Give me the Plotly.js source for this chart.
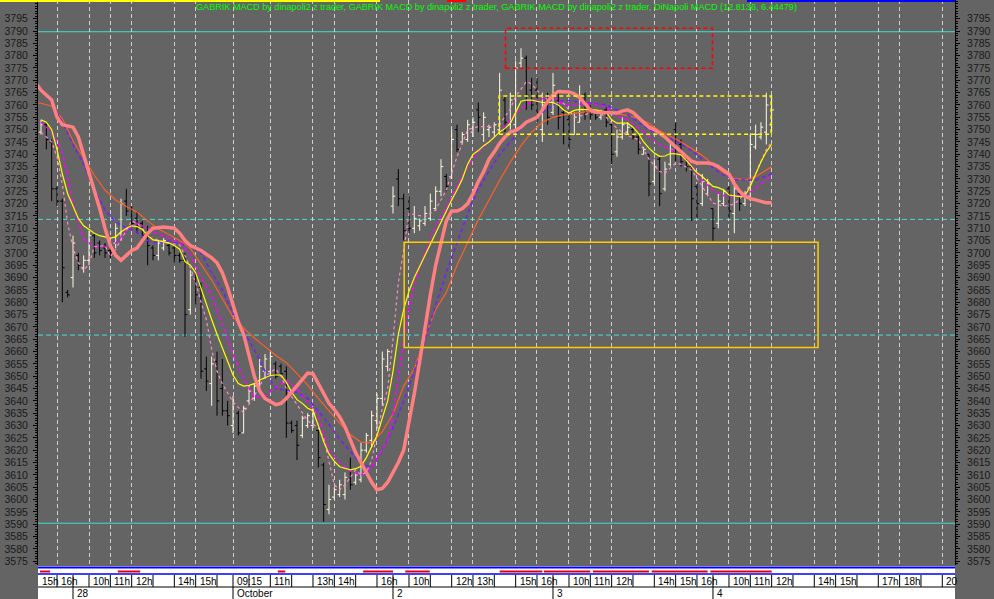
<!DOCTYPE html>
<html><head><meta charset="utf-8">
<script src="https://cdn.plot.ly/plotly-3.0.1.min.js"></script>
<style>html,body{margin:0;padding:0;background:#646464;overflow:hidden}#chart{width:994px;height:599px}</style>
</head><body><div id="chart"></div>
<script>
// ---- OHLC data (15-minute bars), first bar index = -6 ----
const firstBar = -6;
const opens = [3749,3752,3745,3726,3721,3684,
3690,3699,3694,3697,3707,3704,3702,3701,3704,3708,
3721,3718,3714,3712,3708,3702,3699,3702,3703,3702,
3699,3697,3677,3690,3686,3653,3647,3656,3645,3636,
3630,3635,3627,3640,3641,3647,3652,3652,3655,3654,
3652,3631,3630,3626,3630,3630,3628,3614,3596,3601,
3602,3602,3612,3607,3608,3620,3624,3632,3641,3654,
3719,3730,3722,3718,3710,3711,3712,3714,3718,3725,
3731,3731,3750,3745,3746,3749,3758,3748,3750,3749,
3750,3762,3752,3752,3777,3779,3766,3766,3750,3762,
3757,3762,3757,3754,3748,3753,3764,3759,3757,3755,
3758,3752,3741,3747,3749,3750,3747,3740,3740,3729,
3738,3726,3736,3750,3744,3739,3735,3727,3720,3724,
3718,3712,3720,3726,3716,3724,3720,3723,3743,3747,
3749,3752];
const highs = [3754,3753,3746,3727,3722,3685,
3707,3700,3699,3709,3708,3705,3704,3704,3712,3722,
3726,3719,3717,3713,3711,3703,3705,3706,3704,3703,
3700,3700,3693,3692,3688,3658,3658,3660,3657,3640,
3642,3636,3638,3646,3647,3657,3659,3660,3656,3655,
3654,3632,3632,3634,3635,3637,3630,3615,3606,3605,
3608,3611,3617,3611,3623,3627,3636,3643,3660,3661,
3727,3734,3724,3723,3719,3714,3719,3724,3727,3738,
3732,3750,3752,3749,3754,3755,3761,3757,3752,3753,
3773,3764,3765,3778,3783,3780,3771,3771,3765,3765,
3773,3766,3758,3756,3757,3768,3765,3760,3758,3758,
3759,3753,3750,3755,3753,3751,3748,3743,3740,3738,
3739,3737,3745,3753,3746,3740,3735,3728,3732,3730,
3718,3724,3726,3727,3730,3724,3725,3748,3752,3753,
3765,3764];
const lows = [3748,3742,3721,3719,3680,3682,
3686,3693,3692,3695,3698,3699,3698,3698,3702,3705,
3715,3710,3708,3705,3695,3697,3697,3701,3699,3696,
3696,3666,3675,3679,3649,3644,3638,3634,3634,3630,
3627,3626,3627,3639,3640,3645,3649,3650,3649,3650,
3625,3627,3616,3625,3629,3629,3613,3591,3594,3600,
3601,3600,3604,3606,3607,3619,3621,3629,3638,3652,
3716,3719,3705,3708,3708,3709,3711,3713,3717,3723,
3725,3730,3741,3744,3745,3747,3749,3745,3747,3747,
3749,3749,3750,3749,3775,3758,3758,3753,3745,3752,
3756,3750,3744,3742,3748,3753,3754,3754,3754,3754,
3751,3736,3739,3746,3748,3746,3740,3740,3723,3728,
3719,3725,3735,3737,3735,3733,3713,3714,3719,3723,
3705,3710,3719,3714,3708,3717,3719,3721,3742,3746,
3744,3749];
const closes = [3752,3746,3726,3721,3694,3683,
3704,3695,3697,3707,3700,3701,3700,3700,3710,3720,
3717,3712,3711,3707,3703,3699,3704,3705,3700,3699,
3697,3675,3691,3683,3652,3648,3655,3640,3636,3634,
3639,3627,3637,3644,3646,3654,3657,3658,3650,3651,
3631,3628,3622,3633,3634,3635,3617,3598,3600,3604,
3606,3609,3606,3610,3620,3626,3634,3641,3657,3660,
3723,3722,3709,3710,3714,3713,3716,3721,3725,3735,
3727,3746,3742,3748,3752,3753,3755,3755,3751,3752,
3766,3753,3762,3775,3779,3764,3760,3757,3760,3755,
3768,3755,3748,3746,3755,3762,3757,3756,3755,3757,
3753,3740,3747,3752,3751,3747,3742,3742,3728,3735,
3724,3734,3742,3740,3737,3735,3722,3720,3729,3728,
3710,3721,3725,3717,3726,3720,3723,3744,3748,3751,
3760,3758];

// ---- indicator lines ----
const yellowMA = [3754,3753,3750,3742,3732,3724,
3719,3714,3711,3709.5,3708,3707,3706.5,3706,3706.5,3708.5,
3710,3711,3710.7,3709.5,3707,3705.3,3705,3704.5,3704,3703,
3701.5,3696.5,3695,3692,3685.5,3679,3673,3667,3661.5,3656,
3650.5,3647,3646,3646.3,3647,3648.5,3649.5,3650.3,3650.5,3650.5,
3647.5,3643.5,3640.5,3639,3637,3636,3630,3623.5,3618.5,3615.5,
3613.3,3612.5,3612,3612.5,3613.5,3617,3621.5,3626,3633,3640,
3652,3667,3677,3684.5,3690,3694.5,3699,3704,3708.5,3713,
3717,3721.5,3725.5,3730,3736,3740,3741.5,3743.5,3745,3747,
3749,3750.5,3752.5,3757,3761.5,3762,3762,3761.5,3761,3761,
3761,3760,3758,3756.7,3757.8,3758.2,3758.2,3758.1,3758,3757.5,
3757,3754,3752.6,3752.6,3752.6,3751,3748.5,3745,3742.5,3740.5,
3739.2,3739.3,3740.3,3740.2,3739.8,3737.5,3734.8,3732.5,3731,3729,
3727,3726.5,3725.5,3723.5,3723,3722.8,3723.3,3727,3732,3737,
3741,3744];

const salmonX = [-7,-6,-4,-3,-2,0,1,2,3,4,5,6,7,8,9,10,11,12,13,14,15,17,19,20,21,22,24,26,27,28,29,30,31,32,33,34,35,36,38,39,40,41,42,43,44,45,46,47,48,49,50,51,52,53,54,55,56,57,58,59,60,61,62,63,64,65,66,67,68,69,70,71,72,73,74,75,76,77,78,79,80,81,82,83,84,85,86,87,88,89,90,91,93,94,95,96,97,98,102,103,104,105,106,107,108,109,110,111,112,113,114,115,116,117,119,120,121,122,123,124,125,126,127,128,129,130,131];
const salmonY = [3769,3766,3762,3755,3752,3751,3747,3740,3732,3725,3718,3710,3703,3699,3697,3699,3701,3702,3705,3708,3710,3710.5,3710,3708,3705,3703,3701,3698,3696,3692,3686,3679,3672,3667,3658,3650,3644,3641,3638.5,3639,3641,3643.5,3646.5,3649,3651.3,3651,3647,3643,3639,3636.5,3633.5,3629.5,3624,3619,3615,3611,3607,3604,3604.5,3607,3611,3615,3620,3631,3643,3656,3670,3683,3695,3704,3713,3717,3717,3718,3720,3724,3729,3733,3738,3741,3744.5,3747,3749,3749.7,3751,3753,3754,3755,3758,3761.5,3764,3765.5,3765.3,3764.5,3763,3760.5,3758,3757,3756.7,3757.5,3758,3757,3755,3753,3751,3750,3748.5,3747,3745,3743,3741,3739,3737.2,3736.5,3736.5,3736,3735,3733.5,3732,3728,3725,3723,3722,3721.5,3721,3720.3,3720.3];

const orangeX = [-7,-6,-4,-2,0,2,4,6,8,10,12,14,16,18,20,22,24,26,28,30,32,34,36,38,40,42,44,46,48,50,52,54,56,58,60,62,64,66,68,70,72,74,76,78,80,82,84,86,88,90,92,94,96,98,100,102,104,106,108,110,112,114,116,118,120,122,124,126,128,130,131];
const orangeY = [3761,3760.7,3759.5,3754.5,3745.5,3738.5,3731.5,3725.5,3721.5,3718.8,3716.6,3713,3709.7,3707.5,3705,3701.8,3695.5,3689,3681.5,3674,3669.5,3665.5,3662,3658.5,3655.5,3651,3646.5,3641,3635.8,3631,3626.3,3623.3,3623,3627.5,3634.7,3646,3653,3666,3677,3684,3695,3704.5,3713.5,3721.5,3729.5,3736.8,3743.5,3749,3753,3755,3756,3756.6,3757.2,3757.2,3756.9,3756.5,3755.7,3754.6,3752.6,3749.5,3747.3,3745,3742.3,3739.5,3736,3732.5,3730.2,3729.6,3730.9,3733.8,3735];

const magentaX = [-6,-4,-2,0,2,4,6,8,10,12,14,16,18,20,22,24,26,28,30,32,34,36,38,40,42,44,46,48,50,52,54,56,58,59,60,61,62,63,64,65,66,68,70,72,74,76,78,80,82,84,86,88,90,92,94,96,98,100,102,104,106,108,110,112,114,116,118,120,122,124,126,128,130,131];
const magentaY = [3753,3749,3741,3720,3705.5,3702.7,3702.5,3704,3709,3712,3710,3707.6,3706,3704,3699.5,3690,3683,3671,3659,3649,3641.5,3642,3645.5,3648.4,3645,3639.5,3634,3620,3615,3611.5,3609.8,3613,3620.5,3624,3634,3650,3664,3678,3687,3694,3700,3711,3718.5,3727,3735,3741,3745,3749,3754,3758.5,3761.5,3762.6,3763.5,3760,3760,3760.5,3760.3,3759,3755.5,3754,3750.5,3747.3,3744,3742,3739.5,3735.5,3729.5,3725.5,3723.2,3723,3723.6,3726,3729.8,3731];

const purpleX = [-7,-6,-4,-2,0,2,4,6,8,10,12,14,16,18,20,22,24,26,28,30,32,34,36,38,40,42,44,46,48,50,52,54,56,58,60,62,64,66,68,70,72,74,76,78,80,82,84,86,88,90,92,94,96,98,100,102,104,106,108,110,112,114,116,118,120,122,124,126,128,130,131];
const purpleY = [3768,3766.5,3761,3753,3744,3736,3725.5,3717.5,3712.5,3710.2,3708.5,3705,3703.9,3705,3703.8,3702.7,3700,3692,3685,3675.5,3668.3,3660.7,3652,3645,3644.4,3643.5,3641,3636,3630.5,3624.5,3619.5,3614.5,3613,3620,3629,3640,3652,3665,3679,3692,3704,3716,3726,3733,3740,3745,3750.5,3754,3757,3760,3762,3761.5,3761,3760.5,3760,3758,3756,3753,3750,3748,3746.3,3744.2,3741.5,3738,3734.5,3731.5,3729.8,3729.6,3729.6,3731.2,3732];

const pinkX = [-6,-4,-3,-2,-1,0,1,2,3,4,6,7,8,10,11,12,13,14,16,18,20,21,22,23,24,25,26,27,28,30,32,33,34,36,38,39,40,42,44,46,47,48,49,50,51,52,53,54,55,56,57,58,59,60,61,62,63,64,66,68,70,72,74,76,78,80,82,83,84,85,86,87,88,90,92,94,96,98,100,102,104,106,108,110,111,113,114,116,118,120,122,124,126,128,129,130,131];
const pinkY = [3749,3745,3739,3728,3712,3702,3696,3693,3695.5,3702.5,3703,3698.5,3701.5,3709,3713,3712,3710,3706.5,3705.2,3704,3703.2,3699,3694,3688,3680,3673,3661,3652,3647,3639.5,3635.2,3638.5,3642,3650,3653,3650,3645,3638.5,3632,3629,3625,3615.5,3606,3604,3606,3609,3612,3610,3611,3616,3626,3637,3645,3665,3688,3701,3716,3715.5,3714.7,3717.5,3725.5,3739,3750,3751.2,3751.2,3752,3758.5,3763.4,3766.5,3769.5,3768.5,3766,3763.5,3761,3760.7,3755,3756,3758,3755,3750.5,3747.5,3746,3738,3733,3732.3,3736.4,3736,3733.6,3727,3720.2,3718.9,3719.8,3724,3732,3737,3742,3745];

// ---- drawn levels and zones (prices, bar indices) ----
const solidLevels = [3789.7, 3590.4];
const dashedLevels = [3713.6, 3666.7];
const zoneStart = [62.1, 79.9, 81.1];
const zoneEnd   = [139.7, 130.9, 119.9];
const zoneLow   = [3661.7, 3748.1, 3774.9];
const zoneHigh  = [3704.3, 3763.6, 3791.1];
const zoneColor = ['#ffcc00', '#ffff00', '#ff0000'];
const zoneDash  = ['solid', '4px,3px', '4px,3px'];

// ---- time axis labels ----
const hourLabelIdx = [-7,-3,3,7,11,19,23,30,37,45,49,57,63,71,75,83,87,93,97,101,109,113,117,123,127,131,139,143,151,155,163];
const hourLabelText = ['15h','16h','10h','11h','12h','14h','15h','09:15','11h','13h','14h','16h','10h','12h','13h','15h','16h','10h','11h','12h','14h','15h','16h','10h','11h','12h','14h','15h','17h','18h','20h'];
const dayIdx = [0, 30, 60, 90, 120];
const dayText = ['28', 'October', '2', '3', '4'];
const redSpans = [[-6.2,-4.3],[8.4,12.6],[38.4,39.8],[54.4,60],[62.3,66.9],[80,88],[88.3,97],[97.5,108],[108.5,119],[119.5,131]];

const yTicks = [];
for (let v = 3575; v <= 3795; v += 5) yTicks.push(v);
const hourSeps = [-3];
dayIdx.forEach(d => { for (let h = 3; h <= 27; h += 4) if (d + h <= 131) hourSeps.push(d + h); });
for (let h = 135; h <= 167; h += 4) hourSeps.push(h);

const barIdx = opens.map((_, k) => firstBar + k);

// ---- geometry helpers ----
const H = 565;           // plot height in px
const py = px => (H - px) / H;  // pixel row below plot top -> paper y
const yRange = [3573.45, 3802.57];
const xRange = [-6.563, 165.38];

const traces = [
  {type:'ohlc', x:barIdx, open:opens, high:highs, low:lows, close:closes,
   increasing:{line:{color:'#fffbe0', width:1}}, decreasing:{line:{color:'#000000', width:1}},
   tickwidth:0.42, hoverinfo:'skip', showlegend:false},
  {type:'scatter', mode:'lines', x:orangeX, y:orangeY, line:{color:'#ff5f28', width:1.2}, hoverinfo:'skip', showlegend:false},
  {type:'scatter', mode:'lines', x:purpleX, y:purpleY, line:{color:'#7a1cff', width:1.5, dash:'4px,3px'}, hoverinfo:'skip', showlegend:false},
  {type:'scatter', mode:'lines', x:magentaX, y:magentaY, line:{color:'#ff00ff', width:1.5, dash:'4px,3px'}, hoverinfo:'skip', showlegend:false},
  {type:'scatter', mode:'lines', x:pinkX, y:pinkY, line:{color:'#ff8ac8', width:1.2, dash:'3px,3px'}, hoverinfo:'skip', showlegend:false},
  {type:'scatter', mode:'lines', x:barIdx, y:yellowMA, line:{color:'#ffff00', width:1.2}, hoverinfo:'skip', showlegend:false},
  {type:'scatter', mode:'lines', x:salmonX, y:salmonY, line:{color:'#ff8080', width:3.5}, hoverinfo:'skip', showlegend:false},
  {type:'scatter', mode:'markers', x:[0], y:[3700], yaxis:'y2', marker:{opacity:0}, hoverinfo:'skip', showlegend:false}
];

const shapes = [];
solidLevels.forEach(v => shapes.push({type:'line', xref:'paper', x0:0, x1:1, yref:'y', y0:v, y1:v, line:{color:'#40e0d0', width:1}, layer:'below'}));
dashedLevels.forEach(v => shapes.push({type:'line', xref:'paper', x0:0, x1:1, yref:'y', y0:v, y1:v, line:{color:'#40e0d0', width:1, dash:'5px,3px'}, layer:'below'}));
zoneStart.forEach((s, k) => shapes.push({type:'rect', xref:'x', yref:'y', x0:s, x1:zoneEnd[k], y0:zoneLow[k], y1:zoneHigh[k],
  line:{color:zoneColor[k], width:1.5, dash:zoneDash[k]}, fillcolor:'rgba(0,0,0,0)', layer:'above'}));
// top strip remnants of the upper window
shapes.push({type:'line', xref:'paper', yref:'paper', x0:-38/917, x1:(380-38)/917, y0:py(1), y1:py(1), line:{color:'#ffff00', width:2}});
shapes.push({type:'line', xref:'paper', yref:'paper', x0:(447-38)/917, x1:(466-38)/917, y0:py(1), y1:py(1), line:{color:'#ff0000', width:2}});
shapes.push({type:'line', xref:'paper', yref:'paper', x0:(747-38)/917, x1:1, y0:py(1), y1:py(1), line:{color:'#0000ff', width:2}});
// bottom label band
shapes.push({type:'rect', xref:'paper', yref:'paper', x0:0, x1:1, y0:py(599), y1:py(566), fillcolor:'#ffffff', line:{width:0}, layer:'below'});
shapes.push({type:'line', xref:'paper', yref:'paper', x0:0, x1:1, y0:py(567.5), y1:py(567.5), line:{color:'#0000ff', width:2}});
shapes.push({type:'line', xref:'paper', yref:'paper', x0:0, x1:1, y0:py(574), y1:py(574), line:{color:'#0000ff', width:1.5}});
shapes.push({type:'line', xref:'paper', yref:'paper', x0:0, x1:1, y0:py(587), y1:py(587), line:{color:'#000000', width:1}});
redSpans.forEach(r => shapes.push({type:'line', xref:'x', yref:'paper', x0:r[0], x1:r[1], y0:py(571.5), y1:py(571.5), line:{color:'#e00000', width:2}}));
hourSeps.forEach(i => shapes.push({type:'line', xref:'x', yref:'paper', x0:i, x1:i, y0:py(575), y1:py(587), line:{color:'#000000', width:1}}));
dayIdx.forEach(i => shapes.push({type:'line', xref:'x', yref:'paper', x0:i, x1:i, y0:py(575), y1:py(599), line:{color:'#000000', width:1}}));

const annotations = [];
hourLabelIdx.forEach((i, k) => {
  const a = {xref:'x', yref:'paper', x: i < xRange[0] ? xRange[0] : i, y:py(581.5), xanchor:'left', yanchor:'middle',
    text:hourLabelText[k], showarrow:false, xshift:2, font:{family:'Liberation Sans, Arial, sans-serif', size:10, color:'#000'}};
  if (i + 3 > xRange[1]) { a.width = 11; a.align = 'left'; }
  annotations.push(a);
});
dayIdx.forEach((i, k) => annotations.push({xref:'x', yref:'paper', x:i, y:py(593), xanchor:'left', yanchor:'middle',
  text:dayText[k], showarrow:false, xshift:2, font:{family:'Liberation Sans, Arial, sans-serif', size:10, color:'#000'}}));
// indicator caption
annotations.push({xref:'paper', yref:'paper', x:(194-38)/917, y:py(7), xanchor:'left', yanchor:'middle', showarrow:false,
  text:'GABRIK MACD by dinapoli2 z trader, GABRIK MACD by dinapoli2 z trader, GABRIK MACD by dinapoli2 z trader, DiNapoli MACD (12.8136, 6.44479)',
  font:{family:'Liberation Sans, Arial, sans-serif', size:9.1, color:'#00ff00'}});

const yAxisBase = {range:yRange, tickmode:'array', tickvals:yTicks, ticks:'outside', ticklen:4, tickcolor:'#000',
  showline:true, linecolor:'#000', linewidth:1, showgrid:false, zeroline:false, fixedrange:true,
  tickfont:{family:'Liberation Sans, Arial, sans-serif', size:10.5, color:'#1a1a1a'},
  minor:{tickmode:'linear', tick0:3575, dtick:1, ticks:'outside', ticklen:2, tickcolor:'#000'}};

const layout = {
  width:994, height:599,
  margin:{l:38, r:39, t:0, b:34, pad:0},
  paper_bgcolor:'#646464', plot_bgcolor:'#646464',
  showlegend:false, hovermode:false,
  xaxis:{range:xRange, tickmode:'array', tickvals:hourLabelIdx, showticklabels:false, ticks:'',
    showgrid:true, gridcolor:'#cfcfcf', gridwidth:1, griddash:'4px,3px', zeroline:false, showline:false,
    rangeslider:{visible:false}, fixedrange:true},
  yaxis:Object.assign({}, yAxisBase, {side:'left', ticklabelstandoff:3}),
  yaxis2:Object.assign({}, yAxisBase, {side:'right', overlaying:'y', ticklabelstandoff:5}),
  shapes:shapes, annotations:annotations
};

Plotly.newPlot('chart', traces, layout, {staticPlot:true, displayModeBar:false});
</script>
</body></html>
